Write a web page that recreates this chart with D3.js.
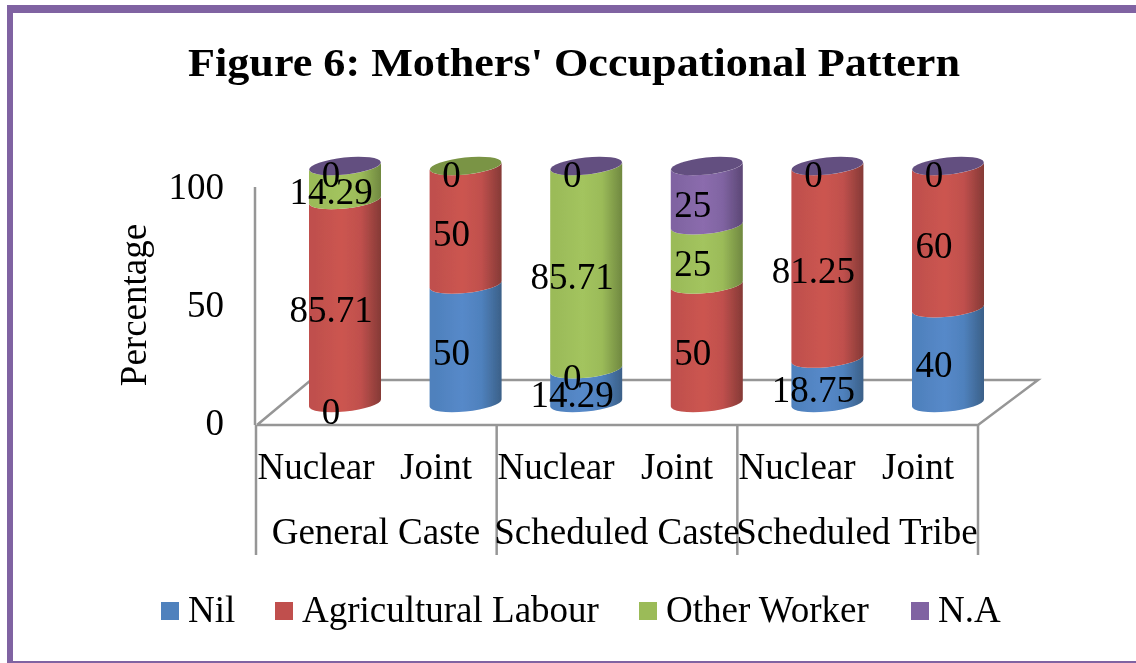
<!DOCTYPE html>
<html><head><meta charset="utf-8">
<script src="https://cdn.jsdelivr.net/npm/d3@7"></script>
<style>
html,body{margin:0;padding:0;background:#fff;overflow:hidden}
svg{display:block}
text{font-family:"Liberation Serif",serif;fill:#000}
</style></head><body>
<svg id="c" width="1136" height="663"></svg>
<script>
const barLabels=["Nuclear","Joint","Nuclear","Joint","Nuclear","Joint"];
const groups=["General Caste","Scheduled Caste","Scheduled Tribe"];
const seriesNames=["Nil","Agricultural Labour","Other Worker","N.A"];
const nil=[0,50,14.29,null,18.75,40];
const agri=[85.71,50,0,50,81.25,60];
const other=[14.29,0,85.71,25,null,null];
const na=[0,null,0,25,0,0];
const colors=["#4f81bd","#c0504d","#9bbb59","#8064a2"];
const light=["#5689c9","#cc5550","#a3c45e","#8b6cad"];
const dark=["#3b6088","#853a36","#708840","#5c4775"];
const capCol=["#3a5f8a","#8a3a36","#7a9444","#644f80"];
const yTicks=[0,50,100];

const svg=d3.select("#c");
const defs=svg.append("defs");
defs.append("filter").attr("id","soft").append("feGaussianBlur").attr("stdDeviation",0.45);
colors.forEach((c,i)=>{
  const g=defs.append("linearGradient").attr("id","g"+i);
  [[0,c],[0.08,c],[0.45,light[i]],[0.72,c],[1,dark[i]]].forEach(s=>g.append("stop").attr("offset",s[0]).attr("stop-color",s[1]));
});
const root=svg.append("g").attr("filter","url(#soft)");

// frame
const frame="#8064a2";
root.append("rect").attr("x",7).attr("y",5).attr("width",1129).attr("height",8).attr("fill",frame);
root.append("rect").attr("x",7).attr("y",5).attr("width",6).attr("height",658).attr("fill",frame);
root.append("rect").attr("x",7).attr("y",661).attr("width",1129).attr("height",2).attr("fill",frame);

root.append("text").attr("x",574).attr("y",76).attr("text-anchor","middle")
  .attr("font-size",41).attr("font-weight","bold").attr("textLength",772).attr("lengthAdjust","spacingAndGlyphs")
  .text("Figure 6: Mothers' Occupational Pattern");

// floor and axes
const grid="#969696";
const floor=[[257,425],[978,425],[1038,380],[311,380],[257,425]];
root.append("path").attr("d",d3.line()(floor)).attr("fill","none").attr("stroke",grid).attr("stroke-width",2.5);

const axisY=d3.scaleLinear().domain([0,100]).range([423,187]);
const yAxis=root.append("g").attr("transform","translate(255,0)")
  .call(d3.axisLeft(axisY).tickValues(yTicks).tickSize(0).tickPadding(31));
yAxis.select(".domain").remove();
yAxis.selectAll("text").attr("font-size",37).attr("fill","#000").attr("text-anchor","end")
  .attr("font-family","Liberation Serif").attr("dy","0.32em");
root.append("line").attr("x1",255).attr("x2",255).attr("y1",187).attr("y2",425).attr("stroke",grid).attr("stroke-width",2.5);

// category dividers
const groupX=d3.scaleLinear().domain([0,3]).range([256,978]);
d3.range(4).forEach(i=>root.append("line").attr("x1",groupX(i)).attr("x2",groupX(i)).attr("y1",425).attr("y2",555)
  .attr("stroke",grid).attr("stroke-width",2.5));

// cylinders
const x=d3.scalePoint().domain(d3.range(6)).range([345,948]);
const y=d3.scaleLinear().domain([0,100]).range([403,166]);
const w=72, rx=w/2, ry=8.5, slant=3.6;
const all=[nil,agri,other,na];
const cylinders=root.append("g");
const labels=[];
barLabels.forEach((_,b)=>{
  const cx=x(b);
  let cum=0, lastSeries=0;
  const g=cylinders.append("g");
  all.forEach((s,si)=>{
    const v=s[b];
    if(v===null) return;
    const y0=y(cum), y1=y(cum+v);
    if(v>0){
      const p=`M${cx-rx},${y0+slant}A${rx},${ry} -6 0 0 ${cx+rx},${y0-slant}`+
              `L${cx+rx},${y1-slant}A${rx},${ry} -6 0 1 ${cx-rx},${y1+slant}Z`;
      g.append("path").attr("d",p).attr("fill",`url(#g${si})`);
    }
    labels.push({cx,y:(y0+y1)/2,v});
    cum+=v; lastSeries=si;
  });
  const yt=y(100);
  g.append("ellipse").attr("cx",cx).attr("cy",yt).attr("rx",rx).attr("ry",ry)
    .attr("transform",`rotate(-6 ${cx} ${yt})`).attr("fill",capCol[lastSeries]);
});
root.append("g").selectAll("text").data(labels).join("text")
  .attr("x",d=>d.cx-14).attr("y",d=>d.y+21).attr("text-anchor","middle").attr("font-size",37)
  .text(d=>d.v);

// category labels
const labelX=[316,436,556,677,797,918];
root.append("g").selectAll("text").data(barLabels).join("text")
  .attr("x",(d,i)=>labelX[i]).attr("y",479).attr("text-anchor","middle").attr("font-size",37).text(d=>d);
const groupCx=[376,617,857];
root.append("g").selectAll("text").data(groups).join("text")
  .attr("x",(d,i)=>groupCx[i]).attr("y",544).attr("text-anchor","middle").attr("font-size",37).text(d=>d);

root.append("text").attr("transform","translate(146,305) rotate(-90)").attr("text-anchor","middle")
  .attr("font-size",37).text("Percentage");

// legend
const legX=[161,275,639,911];
const leg=root.append("g").selectAll("g").data(seriesNames).join("g")
  .attr("transform",(d,i)=>`translate(${legX[i]},602)`);
leg.append("rect").attr("width",18).attr("height",18).attr("fill",(d,i)=>colors[i]);
leg.append("text").attr("x",27).attr("y",20).attr("font-size",37).text(d=>d);
</script>
</body></html>
